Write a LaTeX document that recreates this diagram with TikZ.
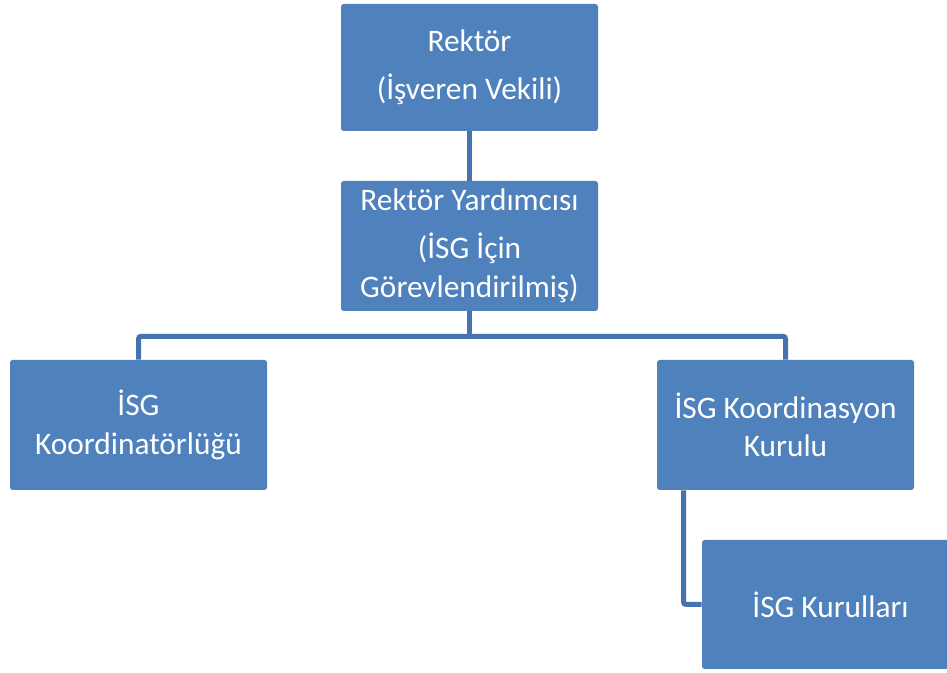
\documentclass[tikz,border=0pt]{standalone}
\usepackage{fontspec}
\setmainfont{Carlito}
\definecolor{boxfill}{HTML}{4F81BD}
\definecolor{linecol}{HTML}{4672AE}
\begin{document}
\begin{tikzpicture}[x=0.75pt,y=-0.75pt,
  orgbox/.style={fill=boxfill,draw=none,rounded corners=2pt,minimum width=192.75pt,minimum height=96pt,
    text=white,align=center,font=\fontsize{23.5}{29}\selectfont,inner sep=0pt},
  conn/.style={draw=linecol,line width=3.75pt,rounded corners=2pt}]
\useasboundingbox (0,0) rectangle (947,673);
\clip (0,0) rectangle (947,673);
\node[orgbox,minimum height=95.25pt] (rektor) at (469.5,67.5) {Rektör\\[7pt](İşveren Vekili)};
\node[orgbox,minimum height=97.5pt] (yard) at (469.5,246) {Rektör Yardımcısı\\[7pt](İSG İçin\\Görevlendirilmiş)};
\node[orgbox,minimum height=97.5pt] (koord) at (138.5,425) {İSG\\Koordinatörlüğü};
\node[orgbox,minimum height=97.5pt] (kurul) at (785.5,425) {İSG Koordinasyon\\Kurulu};
\node[orgbox,minimum height=96.75pt] (kurullar) at (830.5,604.5) {İSG Kurulları};
\path (yard.south) ++(0,25) coordinate (hub);
\draw[conn] (rektor.south) -- (yard.north);
\draw[conn] (yard.south) -- (hub);
\draw[conn] (koord.north) |- (hub) -| (kurul.north);
\draw[conn] ([xshift=-76.5pt]kurul.south) |- (kurullar.west);
\end{tikzpicture}
\end{document}
